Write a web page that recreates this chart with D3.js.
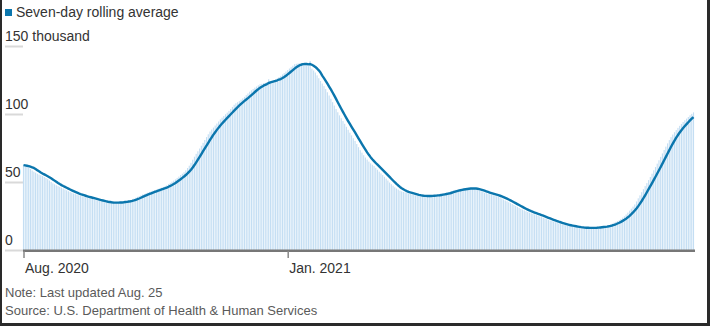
<!DOCTYPE html>
<html><head><meta charset="utf-8">
<script src="https://cdn.jsdelivr.net/npm/d3@7"></script>
<style>
html,body{margin:0;padding:0;background:#fff;}
svg{display:block;font-family:"Liberation Sans",Arial,sans-serif;}
</style></head><body>
<svg id="c" width="710" height="326"></svg>
<script>
// ---- data (thousands of patients hospitalized, daily from Aug. 1, 2020) ----
const firstDay = "2020-08-01";
const dailyHospitalized = [
  62.4, 62.0, 61.5, 60.7, 59.6, 58.5, 57.6, 56.9, 56.1, 55.5,
  55.0, 54.5, 53.7, 52.9, 52.1, 51.1, 50.0, 49.0, 48.3, 47.6,
  46.9, 46.4, 45.8, 45.2, 44.5, 43.9, 43.2, 42.6, 42.1, 41.5,
  41.1, 40.6, 40.2, 39.9, 39.6, 39.2, 38.7, 38.3, 38.0, 37.8,
  37.5, 37.1, 36.7, 36.3, 36.0, 35.7, 35.5, 35.2, 35.0, 34.8,
  34.8, 34.7, 34.7, 34.8, 34.9, 35.1, 35.2, 35.4, 35.6, 35.8,
  36.0, 36.3, 36.7, 37.2, 37.8, 38.4, 39.1, 39.6, 40.2, 40.8,
  41.2, 41.7, 42.2, 42.7, 43.2, 43.6, 44.1, 44.5, 45.0, 45.4,
  45.8, 46.3, 46.8, 47.6, 48.5, 49.3, 50.2, 51.0, 51.9, 53.0,
  54.0, 55.1, 56.1, 57.2, 58.6, 60.3, 62.0, 64.1, 66.4, 68.6,
  70.7, 72.6, 74.6, 76.7, 78.8, 80.9, 83.0, 85.1, 87.1, 88.6,
  90.0, 91.5, 93.0, 94.5, 96.0, 97.3, 98.5, 99.8, 101.0, 102.3,
  103.7, 105.2, 106.8, 107.9, 108.7, 109.5, 110.5, 111.5, 112.6, 113.9,
  115.1, 116.4, 117.4, 118.4, 119.4, 120.2, 121.1, 121.9, 122.2, 122.6,
  122.9, 123.3, 125.6, 124.0, 124.4, 124.8, 125.4, 126.2, 127.1, 128.0,
  129.1, 130.1, 131.2, 132.3, 133.4, 134.4, 135.5, 136.6, 136.9, 137.2,
  137.1, 137.0, 136.7, 136.4, 135.8, 135.2, 139.0, 133.3, 132.0, 130.5,
  128.4, 126.3, 124.3, 122.4, 120.5, 118.4, 116.0, 113.6, 111.2, 108.7,
  106.2, 103.7, 101.3, 99.0, 96.9, 94.8, 92.8, 90.6, 88.4, 86.3,
  84.3, 82.2, 80.2, 77.9, 75.6, 73.4, 71.6, 69.7, 68.0, 66.5,
  65.0, 63.7, 62.7, 61.7, 60.4, 59.0, 57.6, 56.3, 55.1, 53.8,
  52.5, 51.1, 49.6, 48.4, 47.3, 46.1, 45.2, 44.4, 43.6, 43.1,
  42.7, 42.3, 42.0, 41.6, 41.3, 40.9, 40.5, 40.1, 39.9, 39.8,
  39.7, 39.7, 39.7, 39.7, 39.7, 39.7, 39.9, 40.1, 40.4, 40.5,
  40.6, 40.7, 41.0, 41.4, 41.7, 42.1, 42.4, 42.7, 43.3, 43.8,
  44.2, 44.3, 44.5, 44.7, 44.9, 45.0, 45.2, 45.4, 45.6, 45.5,
  45.2, 44.9, 44.6, 44.1, 43.7, 43.2, 42.7, 42.1, 41.8, 41.4,
  41.0, 40.7, 40.3, 40.0, 39.5, 39.1, 38.6, 37.9, 37.1, 36.4,
  35.8, 35.1, 34.5, 33.8, 33.1, 32.4, 31.7, 30.9, 30.2, 29.7,
  29.1, 28.5, 28.0, 27.5, 27.0, 26.6, 26.2, 25.7, 25.2, 24.7,
  24.2, 23.7, 23.2, 22.7, 22.0, 21.7, 21.3, 20.8, 20.4, 20.0,
  19.5, 19.1, 18.8, 18.5, 18.2, 17.9, 17.7, 17.4, 17.2, 16.9,
  16.7, 16.6, 16.4, 16.3, 16.3, 16.2, 16.2, 16.2, 16.2, 16.3,
  16.4, 16.6, 16.7, 16.9, 17.0, 17.2, 17.3, 17.5, 17.9, 18.2,
  18.7, 19.4, 20.1, 20.7, 21.3, 21.9, 22.8, 23.8, 24.8, 26.1,
  27.5, 28.9, 30.4, 31.9, 33.5, 35.7, 38.0, 40.2, 42.5, 44.7,
  47.0, 49.2, 51.4, 53.7, 56.1, 58.6, 61.0, 63.5, 66.0, 68.5,
  71.0, 73.5, 76.0, 78.4, 80.8, 83.0, 84.9, 86.6, 88.2, 89.8,
  91.3, 92.7, 94.1, 95.4, 96.6, 97.8, 99.0, 100.1, 101.2
];
const yTickValues = [0, 50, 100, 150];
const yTickLabels = ["0", "50", "100", "150 thousand"];
const xTickDates = ["2020-08-01", "2021-01-01"];
const xTickLabels = ["Aug. 2020", "Jan. 2021"];
const legendLabel = "Seven-day rolling average";
const noteText = "Note: Last updated Aug. 25";
const sourceText = "Source: U.S. Department of Health & Human Services";

// ---- derived ----
const start = new Date(firstDay + "T00:00:00Z");
const rows = dailyHospitalized.map((v, i) => ({
  date: d3.utcDay.offset(start, i),
  value: v,
  avg: d3.mean(dailyHospitalized.slice(Math.max(0, i - 6), i + 1))
}));

const svg = d3.select("#c");
const W = 710, H = 326;

const x = d3.scaleUtc()
  .domain(d3.extent(rows, d => d.date))
  .range([23.5, 693.5]);
const y = d3.scaleLinear().domain([0, 150]).range([250, 46]);
const step = x(rows[1].date) - x(rows[0].date);

// y tick stubs + labels
const yg = svg.append("g");
yg.selectAll("line").data(yTickValues).join("line")
  .attr("x1", 5).attr("x2", 23)
  .attr("y1", d => y(d) + 0.5).attr("y2", d => y(d) + 0.5)
  .attr("stroke", "#d9d9d9").attr("stroke-width", 2);
yg.selectAll("text").data(yTickValues).join("text")
  .attr("x", 5).attr("y", d => y(d) - 4.7)
  .attr("font-size", 14).attr("fill", "#333")
  .text((d, i) => yTickLabels[i]);

// bars
svg.append("g").selectAll("rect").data(rows).join("rect")
  .attr("x", d => x(d.date) - step * 0.33)
  .attr("width", step * 0.66)
  .attr("y", d => y(d.value))
  .attr("height", d => y(0) - y(d.value))
  .attr("fill", "#c4def3");

// rolling average line
svg.append("path").datum(rows)
  .attr("fill", "none")
  .attr("stroke", "#0b76ad")
  .attr("stroke-width", 2.4)
  .attr("stroke-linejoin", "round")
  .attr("d", d3.line().x(d => x(d.date)).y(d => y(d.avg)));

// x axis
svg.append("rect").attr("x", 23).attr("y", 249.5)
  .attr("width", x(rows[rows.length - 1].date) + 1.5 - 23).attr("height", 2.5)
  .attr("fill", "#777");
const xAxis = d3.axisBottom(x)
  .tickValues(xTickDates.map(s => new Date(s + "T00:00:00Z")))
  .tickSize(7)
  .tickFormat((d, i) => xTickLabels[i]);
const xg = svg.append("g").attr("transform", "translate(0,251)").call(xAxis);
xg.select(".domain").remove();
xg.selectAll(".tick line").attr("stroke", "#888").attr("stroke-width", 1.5);
xg.selectAll(".tick text")
  .attr("text-anchor", "start").attr("dx", 1).attr("y", 21.5).attr("dy", 0)
  .attr("font-size", 14).attr("fill", "#333")
  .attr("font-family", '"Liberation Sans",Arial,sans-serif');

// legend
svg.append("rect").attr("x", 5).attr("y", 9).attr("width", 7).attr("height", 7).attr("fill", "#0b76ad");
svg.append("text").attr("x", 16).attr("y", 16.7).attr("font-size", 14).attr("fill", "#333").text(legendLabel);

// notes
svg.append("text").attr("x", 5).attr("y", 297).attr("font-size", 13).attr("fill", "#5a5a5a").text(noteText);
svg.append("text").attr("x", 5).attr("y", 314.5).attr("font-size", 13).attr("fill", "#5a5a5a").text(sourceText);

// frame
svg.append("rect").attr("x", 0).attr("y", 0).attr("width", 2).attr("height", H).attr("fill", "#2a2a2a");
svg.append("rect").attr("x", W - 3).attr("y", 0).attr("width", 3).attr("height", H).attr("fill", "#2a2a2a");
svg.append("rect").attr("x", 0).attr("y", H - 3).attr("width", W).attr("height", 3).attr("fill", "#2a2a2a");
</script>
</body></html>
